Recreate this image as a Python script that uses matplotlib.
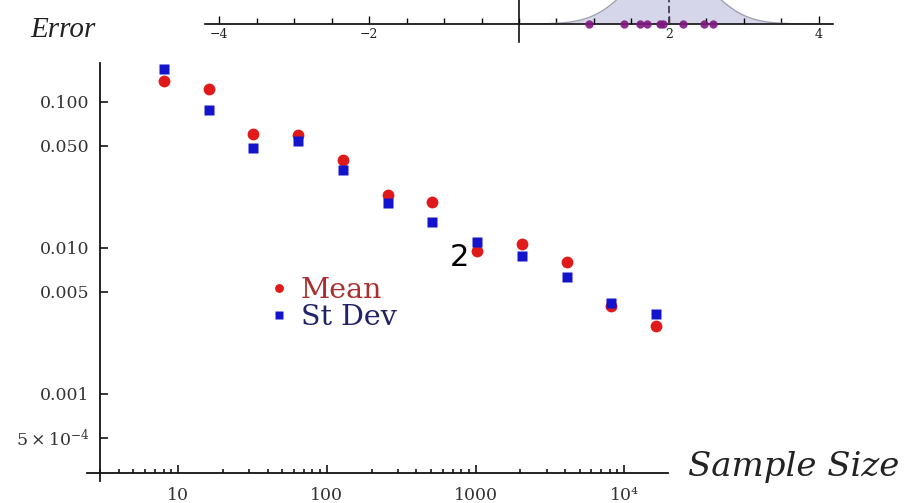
import numpy as np
import matplotlib
matplotlib.use("Agg")
import matplotlib.pyplot as plt
from matplotlib.ticker import (FixedLocator, FixedFormatter, LogLocator,
                               NullLocator, NullFormatter, MultipleLocator)

# ---------------- data ----------------
sample_size = [8, 16, 32, 64, 128, 256, 512, 1024, 2048, 4096, 8192, 16384]
mean_error = [0.139, 0.123, 0.0604, 0.0594, 0.0401, 0.0231, 0.0206,
              0.00953, 0.0106, 0.00802, 0.00401, 0.00292]
sd_error = [0.168, 0.0882, 0.0484, 0.0541, 0.0342, 0.0203, 0.0151,
            0.0110, 0.00882, 0.00633, 0.00420, 0.00353]

y_ticks = [5e-4, 1e-3, 5e-3, 1e-2, 5e-2, 1e-1]
y_tick_labels = [r"$5\times10^{-4}$", "0.001", "0.005", "0.010", "0.050", "0.100"]
x_ticks = [10, 100, 1000, 10000]
x_tick_labels = ["10", "100", "1000", "10\u2074"]
series_labels = ["Mean", "St Dev"]

inset_sample = [0.93, 1.40, 1.61, 1.71, 1.88, 1.92, 2.19, 2.47, 2.59]
inset_mu = 2.0
inset_sigma = 0.5
inset_ticks = [-4, -2, 2, 4]
inset_tick_labels = ["\u22124", "\u22122", "2", "4"]

# ---------------- style ----------------
plt.rcParams['font.family'] = ['DejaVu Serif']
plt.rcParams['mathtext.fontset'] = 'dejavuserif'

W, H = 912, 503
fig = plt.figure(figsize=(W / 100, H / 100), dpi=100)
fig.patch.set_facecolor('white')

# ---------------- main axes ----------------
ax = fig.add_axes([87 / W, 1 - 481 / H, (668 - 87) / W, (481 - 63) / H])
ax.set_xscale('log')
ax.set_yscale('log')
ax.set_xlim(10 ** 0.387, 10 ** 4.294)
ax.set_ylim(10 ** -3.596, 10 ** -0.733)
ax.patch.set_visible(False)

for s in ['top', 'right']:
    ax.spines[s].set_visible(False)
ax.spines['left'].set_position(('data', 3.0))
ax.spines['bottom'].set_position(('data', 10 ** -3.541))
for s in ['left', 'bottom']:
    ax.spines[s].set_linewidth(1.3)
    ax.spines[s].set_color('#111111')

ax.xaxis.set_major_locator(FixedLocator(x_ticks))
ax.xaxis.set_major_formatter(FixedFormatter(x_tick_labels))
ax.xaxis.set_minor_locator(LogLocator(base=10, subs=np.arange(2, 10) * 1.0, numticks=30))
ax.xaxis.set_minor_formatter(NullFormatter())
ax.yaxis.set_major_locator(FixedLocator(y_ticks))
ax.yaxis.set_major_formatter(FixedFormatter(y_tick_labels))
ax.yaxis.set_minor_locator(NullLocator())

ax.tick_params(axis='x', which='major', direction='in', length=6, width=1.1,
               pad=10, labelsize=12.5, labelcolor='#333333')
ax.tick_params(axis='x', which='minor', direction='in', length=3, width=1.1)
ax.tick_params(axis='y', which='major', direction='in', length=6, width=1.1,
               pad=8, labelsize=12.5, labelcolor='#333333')

ax.plot(sample_size, mean_error, 'o', color='#e01a1a', ms=8.5, mec='none',
        zorder=3, clip_on=False, label=series_labels[0])
ax.plot(sample_size, sd_error, 's', color='#1414cc', ms=7.5, mec='none',
        zorder=4, clip_on=False, label=series_labels[1])

leg = ax.legend(loc='upper left', bbox_to_anchor=(268 / W, 1 - 277 / H),
                bbox_transform=fig.transFigure, frameon=False, fontsize=20.5,
                handlelength=0.75, handletextpad=0.4, labelspacing=0.0,
                borderpad=0, borderaxespad=0, markerscale=0.75)
for t, c in zip(leg.get_texts(), ['#a83030', '#222266']):
    t.set_color(c)

fig.text(30 / W, 1 - 30 / H, "Error", family='Liberation Serif', style='italic',
         fontsize=21, ha='left', va='center', color='#222222')
fig.text(688 / W, 1 - 476 / H, "Sample Size", family='DejaVu Serif',
         style='italic', fontsize=24.5, ha='left', va='baseline', color='#222222')
fig.text(459 / W, 1 - 258 / H, "2", family='DejaVu Sans', fontsize=22,
         ha='center', va='center', color='black')

# ---------------- inset ----------------
iax = fig.add_axes([205 / W, 1 - 42 / H, 628 / W, 90 / H])
iax.set_xlim(-4.19, 4.19)
iax.set_ylim(-0.225, 0.9)
iax.patch.set_visible(False)
xs = np.linspace(-4.19, 4.19, 800)
pdf = np.exp(-0.5 * ((xs - inset_mu) / inset_sigma) ** 2) / (inset_sigma * np.sqrt(2 * np.pi))
iax.fill_between(xs, 0, pdf, color='#d6d6ea', zorder=1, lw=0)
iax.plot(xs, pdf, color='#a0a0b0', lw=1.0, zorder=2)
iax.vlines(inset_mu, 0, pdf.max(), colors='#4a3a5a', linestyles=(0, (4, 2)), lw=1.3, zorder=3)
iax.plot(inset_sample, np.zeros(len(inset_sample)), 'o', color='#801880',
         ms=6, mec='none', alpha=0.9, zorder=5, clip_on=False)

for s in ['top', 'right']:
    iax.spines[s].set_visible(False)
iax.spines['left'].set_position(('data', 0))
iax.spines['bottom'].set_position(('data', 0))
for s in ['left', 'bottom']:
    iax.spines[s].set_linewidth(1.2)
    iax.spines[s].set_color('#111111')
iax.xaxis.set_major_locator(FixedLocator(inset_ticks))
iax.xaxis.set_major_formatter(FixedFormatter(inset_tick_labels))
iax.xaxis.set_minor_locator(MultipleLocator(0.5))
iax.yaxis.set_major_locator(NullLocator())
iax.yaxis.set_minor_locator(NullLocator())
iax.tick_params(axis='x', which='major', direction='in', length=6, width=1,
                pad=3, labelsize=9, labelcolor='#222222')
iax.tick_params(axis='x', which='minor', direction='in', length=4, width=1)

fig.savefig('out.png', dpi=100, facecolor='white')
